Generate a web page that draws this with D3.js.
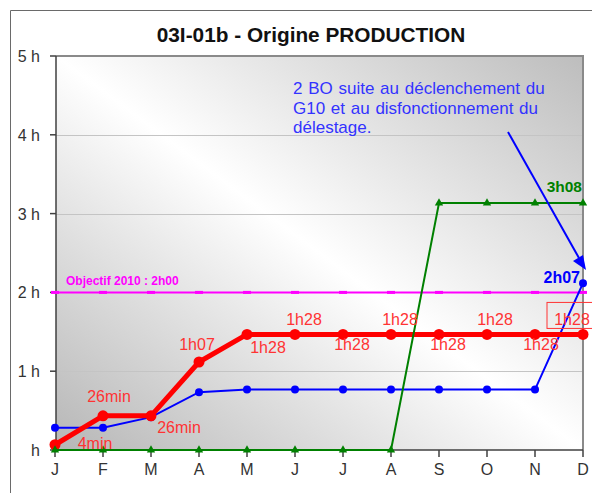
<!DOCTYPE html>
<html>
<head>
<meta charset="utf-8">
<script src="https://cdn.jsdelivr.net/npm/d3@7"></script>
<style>
  body { margin: 0; background: #fff; }
  svg { display: block; font-family: Arial, 'Liberation Sans', sans-serif; }
</style>
</head>
<body>
<svg id="chart" width="592" height="493"></svg>
<script>
// months and values (minutes)
const months = ['J', 'F', 'M', 'A', 'M', 'J', 'J', 'A', 'S', 'O', 'N', 'D'];
const redValues = [4, 26, 26, 67, 88, 88, 88, 88, 88, 88, 88, 88];
const redLabels = ['4min', '26min', '26min', '1h07', '1h28', '1h28', '1h28', '1h28', '1h28', '1h28', '1h28', '1h28'];
const blueValues = [17, 17, 25, 44, 46, 46, 46, 46, 46, 46, 46, 127];
const greenValues = [0, 0, 0, 0, 0, 0, 0, 0, 188, 188, 188, 188];
const objectiveValues = [120, 120, 120, 120, 120, 120, 120, 120, 120, 120, 120, 120];
const yTicks = [0, 60, 120, 180, 240, 300];
const yTickLabels = ['h', '1 h', '2 h', '3 h', '4 h', '5 h'];
const annotationLines = [
  '2 BO suite au déclenchement du',
  'G10 et au disfonctionnement du',
  'délestage.',
];

const svg = d3.select('#chart');
const plot = { left: 56, right: 583, top: 56, bottom: 450 };

const x = d3.scalePoint().domain(d3.range(months.length)).range([plot.left - 1, plot.right]);
const y = d3.scaleLinear().domain([0, 300]).range([plot.bottom, plot.top]);

// outer frame
svg.append('path')
  .attr('d', 'M10.5,493 V10.5 H592')
  .attr('fill', 'none')
  .attr('stroke', '#6a6a6a');

// plot background gradient
const defs = svg.append('defs');
const grad = defs.append('linearGradient')
  .attr('id', 'bg')
  .attr('x1', 0).attr('y1', 1).attr('x2', 1).attr('y2', 0);
grad.append('stop').attr('offset', 0).attr('stop-color', '#b6b6b6');
grad.append('stop').attr('offset', 0.5).attr('stop-color', '#ffffff');
grad.append('stop').attr('offset', 1).attr('stop-color', '#bdbdbd');

svg.append('rect')
  .attr('x', plot.left)
  .attr('y', plot.top)
  .attr('width', plot.right - plot.left)
  .attr('height', plot.bottom - plot.top)
  .attr('fill', 'url(#bg)');

// gridlines
svg.append('g')
  .selectAll('line')
  .data(yTicks.filter((d) => d > 0 && d < 300))
  .join('line')
  .attr('x1', plot.left)
  .attr('x2', plot.right)
  .attr('y1', (d) => Math.round(y(d)) + 0.5)
  .attr('y2', (d) => Math.round(y(d)) + 0.5)
  .attr('stroke', '#c4c4c4');

// top and right frame
svg.append('path')
  .attr('d', `M${plot.left},${plot.top} H${plot.right} V${plot.bottom}`)
  .attr('fill', 'none')
  .attr('stroke', '#8a8a8a')
  .attr('stroke-width', 2);

// y axis
const yAxis = svg.append('g');
yAxis.append('line')
  .attr('x1', plot.left).attr('x2', plot.left)
  .attr('y1', plot.top).attr('y2', plot.bottom)
  .attr('stroke', '#404040').attr('stroke-width', 1.5);
yAxis.selectAll('line.tick')
  .data(yTicks)
  .join('line')
  .attr('class', 'tick')
  .attr('x1', plot.left - 6).attr('x2', plot.left)
  .attr('y1', (d) => y(d)).attr('y2', (d) => y(d))
  .attr('stroke', '#404040').attr('stroke-width', 1.5);
yAxis.selectAll('text')
  .data(yTicks)
  .join('text')
  .attr('x', 40)
  .attr('y', (d) => y(d) + 6)
  .attr('text-anchor', 'end')
  .attr('font-size', 16)
  .attr('fill', '#333')
  .text((d, i) => yTickLabels[i]);

// x axis
const xAxis = svg.append('g');
xAxis.append('line')
  .attr('x1', plot.left).attr('x2', plot.right)
  .attr('y1', plot.bottom).attr('y2', plot.bottom)
  .attr('stroke', '#404040').attr('stroke-width', 1.5);
xAxis.selectAll('line.tick')
  .data(months)
  .join('line')
  .attr('class', 'tick')
  .attr('x1', (d, i) => x(i)).attr('x2', (d, i) => x(i))
  .attr('y1', plot.bottom).attr('y2', plot.bottom + 7)
  .attr('stroke', '#404040').attr('stroke-width', 1.5);
xAxis.selectAll('text')
  .data(months)
  .join('text')
  .attr('x', (d, i) => x(i))
  .attr('y', 475)
  .attr('text-anchor', 'middle')
  .attr('font-size', 16)
  .attr('fill', '#333')
  .text((d) => d);

const line = d3.line().x((d, i) => x(i)).y((d) => y(d));

// objective line
svg.append('path')
  .attr('d', line(objectiveValues))
  .attr('fill', 'none')
  .attr('stroke', '#ff00ff')
  .attr('stroke-width', 2);
svg.append('g')
  .selectAll('rect')
  .data(objectiveValues)
  .join('rect')
  .attr('x', (d, i) => x(i) - 4)
  .attr('y', (d) => y(d) - 1.5)
  .attr('width', 8)
  .attr('height', 3)
  .attr('fill', '#ff00ff');
svg.append('text')
  .attr('x', 66)
  .attr('y', 285)
  .attr('font-size', 12)
  .attr('font-weight', 'bold')
  .attr('fill', '#ff00ff')
  .text('Objectif 2010 : 2h00');

// blue series
svg.append('path')
  .attr('d', line(blueValues))
  .attr('fill', 'none')
  .attr('stroke', '#0000ff')
  .attr('stroke-width', 2);
svg.append('g')
  .selectAll('circle')
  .data(blueValues)
  .join('circle')
  .attr('cx', (d, i) => x(i))
  .attr('cy', (d) => y(d))
  .attr('r', 4)
  .attr('fill', '#0000ff');

// red series
svg.append('path')
  .attr('d', line(redValues))
  .attr('fill', 'none')
  .attr('stroke', '#ff0000')
  .attr('stroke-width', 5)
  .attr('stroke-linejoin', 'round');
svg.append('g')
  .selectAll('circle')
  .data(redValues)
  .join('circle')
  .attr('cx', (d, i) => x(i))
  .attr('cy', (d) => y(d))
  .attr('r', 5.5)
  .attr('fill', '#ff0000');

// green series
svg.append('path')
  .attr('d', line(greenValues))
  .attr('fill', 'none')
  .attr('stroke', '#008000')
  .attr('stroke-width', 2);
svg.append('g')
  .selectAll('path')
  .data(greenValues)
  .join('path')
  .attr('d', d3.symbol(d3.symbolTriangle, 30))
  .attr('transform', (d, i) => `translate(${x(i)},${y(d)})`)
  .attr('fill', '#008000');

// red data labels (offset from point: dx center, dy baseline)
const labelOffsets = [
  [40, 4], [6, -14], [28, 17], [-2, -12], [21, 19], [9, -9],
  [9, 16], [9, -9], [9, 16], [8, -9], [6, 16], [-11, -9],
];
const lastIdx = redValues.length - 1;
svg.append('rect')
  .attr('x', x(lastIdx) - 36)
  .attr('y', y(redValues[lastIdx]) - 32)
  .attr('width', 60)
  .attr('height', 26)
  .attr('fill', 'none')
  .attr('stroke', '#ff3333');
svg.append('g')
  .selectAll('text')
  .data(redLabels)
  .join('text')
  .attr('x', (d, i) => x(i) + labelOffsets[i][0])
  .attr('y', (d, i) => y(redValues[i]) + labelOffsets[i][1])
  .attr('text-anchor', 'middle')
  .attr('font-size', 16)
  .attr('fill', '#ff3333')
  .text((d) => d);

// end labels
svg.append('text')
  .attr('x', 582)
  .attr('y', 192)
  .attr('text-anchor', 'end')
  .attr('font-size', 15.5)
  .attr('font-weight', 'bold')
  .attr('fill', '#008000')
  .text('3h08');
svg.append('text')
  .attr('x', 580)
  .attr('y', 283)
  .attr('text-anchor', 'end')
  .attr('font-size', 16)
  .attr('font-weight', 'bold')
  .attr('fill', '#0000ff')
  .text('2h07');

// annotation
svg.append('g')
  .selectAll('text')
  .data(annotationLines)
  .join('text')
  .attr('x', 293)
  .attr('y', (d, i) => 94 + i * 19.5)
  .attr('font-size', 17)
  .attr('word-spacing', 1)
  .attr('fill', '#3333ff')
  .text((d) => d);

svg.append('line')
  .attr('x1', 508).attr('y1', 132)
  .attr('x2', 579).attr('y2', 258)
  .attr('stroke', '#0000ff')
  .attr('stroke-width', 2);
svg.append('path')
  .attr('d', 'M586,270 L573,261 L583,255 Z')
  .attr('fill', '#0000ff');

// title
svg.append('text')
  .attr('x', 311)
  .attr('y', 42)
  .attr('text-anchor', 'middle')
  .attr('font-size', 20.8)
  .attr('font-weight', 'bold')
  .attr('fill', '#111')
  .text('03I-01b - Origine PRODUCTION');
</script>
</body>
</html>
